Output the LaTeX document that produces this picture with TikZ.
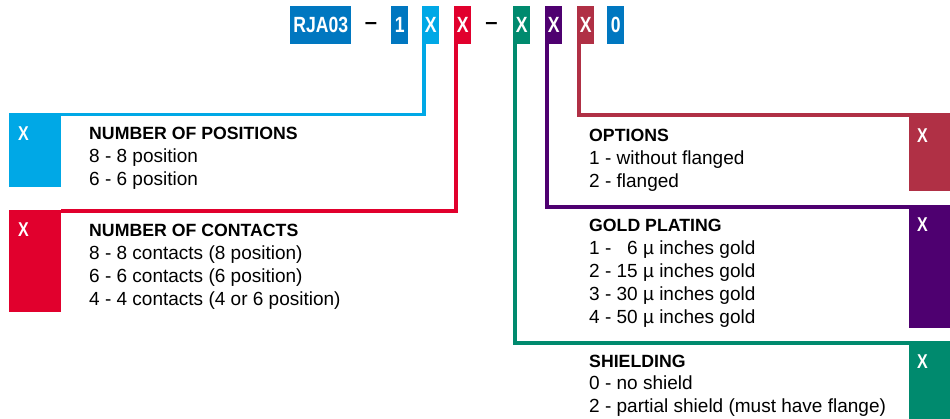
\documentclass[tikz,border=0pt]{standalone}
\usepackage{fontspec}
\setmainfont{Liberation Sans}
\newfontfamily\codefont[FakeStretch=0.8]{Liberation Sans}
\usepackage{tikz}
\usepackage{xcolor}
\definecolor{CodeBlue}{RGB}{0,119,192}
\definecolor{PosBlue}{RGB}{0,168,230}
\definecolor{ContRed}{RGB}{225,0,45}
\definecolor{ShieldGreen}{RGB}{0,138,110}
\definecolor{GoldPurple}{RGB}{78,0,112}
\definecolor{OptCrimson}{RGB}{176,48,69}
\usetikzlibrary{positioning}

\begin{document}
\begin{tikzpicture}[x=1pt, y=-1pt,
  code/.style={fill=#1, text=white, inner sep=0pt, minimum width=17pt, minimum height=38pt, anchor=north west, font=\codefont\fontsize{22}{22}\selectfont\bfseries},
  tab/.style={fill=#1, inner sep=0pt, anchor=north west},
  tabx/.style={text=white, inner sep=0pt, anchor=base west, font=\codefont\fontsize{20}{20}\selectfont\bfseries},
  info/.style={inner sep=0pt, anchor=base west, align=left, font=\fontsize{19}{22.8}\selectfont},
  link/.style={draw=#1, line width=3.6pt},
  sep/.style={inner sep=0pt, font=\fontsize{22}{22}\selectfont\bfseries}
]
\fill[white] (0,0) rectangle (950,419);
\useasboundingbox (0,0) rectangle (950,419);

% part number
\node[code=CodeBlue, minimum width=61pt] (base) at (290,6) {RJA03};
\node[sep] (dasha) at (371,26) {--};
\node[code=CodeBlue] (one) at (391,6) {1};
\node[code=PosBlue] (xpos) at (422,6) {X};
\node[code=ContRed] (xcont) at (454,6) {X};
\node[sep] (dashb) at (491.5,26) {--};
\node[code=ShieldGreen] (xshield) at (513,6) {X};
\node[code=GoldPurple] (xgold) at (545,6) {X};
\node[code=OptCrimson] (xopt) at (577,6) {X};
\node[code=CodeBlue] (zero) at (607,6) {0};

% colour tabs
\node[tab=PosBlue, minimum width=52pt, minimum height=74pt] (tabpos) at (9,113) {};
\node[tab=ContRed, minimum width=52pt, minimum height=102pt] (tabcont) at (9,210) {};
\node[tab=OptCrimson, minimum width=41pt, minimum height=76pt] (tabopt) at (909,115) {};
\node[tab=GoldPurple, minimum width=41pt, minimum height=121pt] (tabgold) at (909,207) {};
\node[tab=ShieldGreen, minimum width=41pt, minimum height=76pt] (tabshield) at (909,343) {};

\node[tabx] (lxpos) at (18,141) {X};
\node[tabx] (lxcont) at (18,237) {X};
\node[tabx] (lxopt) at (917,143) {X};
\node[tabx] (lxgold) at (917,232) {X};
\node[tabx] (lxshield) at (917,368) {X};

% connectors
\draw[link=PosBlue] ([xshift=2pt]xpos.south west) |- ([yshift=-1.5pt]tabpos.north east);
\draw[link=ContRed] ([xshift=2pt]xcont.south west) |- ([yshift=-1pt]tabcont.north east);
\draw[link=ShieldGreen] ([xshift=2pt]xshield.south west) |- (tabshield.north east);
\draw[link=GoldPurple] ([xshift=2pt]xgold.south west) |- (tabgold.north east);
\draw[link=OptCrimson] ([xshift=2pt]xopt.south west) |- (tabopt.north east);

% descriptions (placed at the baseline of their last line)
\node[info] (posinfo) at (89,185.6) {{\fontsize{17.7}{22.8}\selectfont\bfseries NUMBER OF POSITIONS}\\8 - 8 position\\6 - 6 position};
\node[info] (continfo) at (89,305.4) {{\fontsize{17.7}{22.8}\selectfont\bfseries NUMBER OF CONTACTS}\\8 - 8 contacts (8 position)\\6 - 6 contacts (6 position)\\4 - 4 contacts (4 or 6 position)};
\node[info] (optinfo) at (589,187.6) {{\fontsize{17.7}{22.8}\selectfont\bfseries OPTIONS}\\1 - without flanged\\2 - flanged};
\node[info] (goldinfo) at (589,323.2) {{\fontsize{17.7}{22.8}\selectfont\bfseries GOLD PLATING}\\1 - \phantom{1}6 µ inches gold\\2 - 15 µ inches gold\\3 - 30 µ inches gold\\4 - 50 µ inches gold};
\node[info] (shieldinfo) at (589,412.6) {{\fontsize{17.7}{22.8}\selectfont\bfseries SHIELDING}\\0 - no shield\\2 - partial shield (must have flange)};
\end{tikzpicture}
\end{document}
